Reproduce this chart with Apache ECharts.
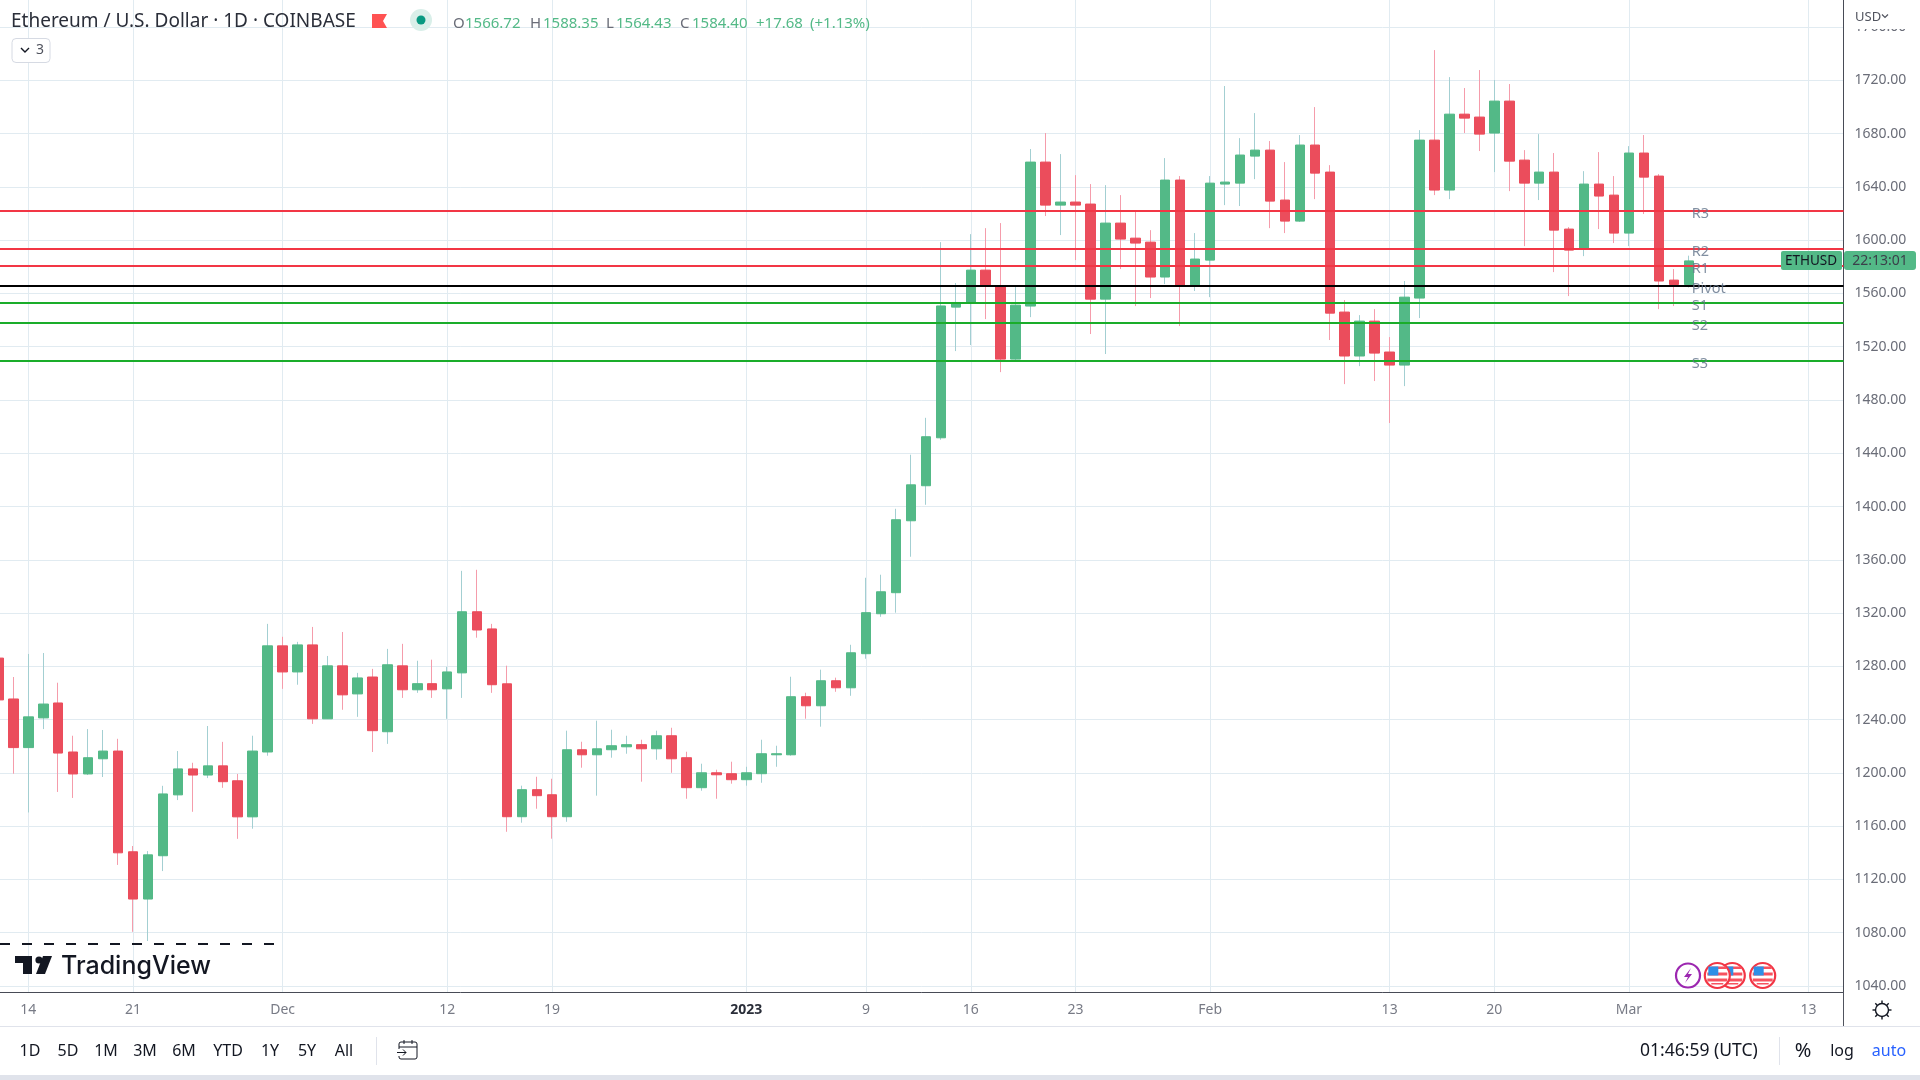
<!DOCTYPE html>
<html>
<head>
<meta charset="utf-8">
<title>ETHUSD</title>
<script src="https://cdn.jsdelivr.net/npm/echarts@6/dist/echarts.min.js"></script>
<style>
html, body {margin:0; padding:0; background:#fff;}
#main {width:1920px; height:1080px;}
</style>
</head>
<body>
<div id="main"></div>
<script>
const dates = [
  '2022-11-12','2022-11-13','2022-11-14','2022-11-15','2022-11-16','2022-11-17','2022-11-18','2022-11-19','2022-11-20','2022-11-21',
  '2022-11-22','2022-11-23','2022-11-24','2022-11-25','2022-11-26','2022-11-27','2022-11-28','2022-11-29','2022-11-30',
  '2022-12-01','2022-12-02','2022-12-03','2022-12-04','2022-12-05','2022-12-06','2022-12-07','2022-12-08','2022-12-09','2022-12-10',
  '2022-12-11','2022-12-12','2022-12-13','2022-12-14','2022-12-15','2022-12-16','2022-12-17','2022-12-18','2022-12-19','2022-12-20',
  '2022-12-21','2022-12-22','2022-12-23','2022-12-24','2022-12-25','2022-12-26','2022-12-27','2022-12-28','2022-12-29','2022-12-30','2022-12-31',
  '2023-01-01','2023-01-02','2023-01-03','2023-01-04','2023-01-05','2023-01-06','2023-01-07','2023-01-08','2023-01-09','2023-01-10',
  '2023-01-11','2023-01-12','2023-01-13','2023-01-14','2023-01-15','2023-01-16','2023-01-17','2023-01-18','2023-01-19','2023-01-20',
  '2023-01-21','2023-01-22','2023-01-23','2023-01-24','2023-01-25','2023-01-26','2023-01-27','2023-01-28','2023-01-29','2023-01-30','2023-01-31',
  '2023-02-01','2023-02-02','2023-02-03','2023-02-04','2023-02-05','2023-02-06','2023-02-07','2023-02-08','2023-02-09','2023-02-10',
  '2023-02-11','2023-02-12','2023-02-13','2023-02-14','2023-02-15','2023-02-16','2023-02-17','2023-02-18','2023-02-19','2023-02-20',
  '2023-02-21','2023-02-22','2023-02-23','2023-02-24','2023-02-25','2023-02-26','2023-02-27','2023-02-28',
  '2023-03-01','2023-03-02','2023-03-03','2023-03-04','2023-03-05'
];
const opens = [
  1286.2,1255.5,1219,1241.3,1252.5,1215.7,1199.2,1210.6,1216.4,1140.8,1105.3,1137.8,1183.5,1203,1198.4,1205.3,1194.1,1167,1215.7,
  1295.4,1275.8,1296.1,1240.6,1280.4,1259.3,1272,1230.9,1280.4,1262.4,1267,1263.1,1275.1,1321,1308.1,1266.9,1167.1,1187.4,1183.6,1167.1,
  1217.4,1213.6,1217.4,1219.6,1221.2,1218.1,1227.9,1211.4,1188.9,1200.1,1199.4,
  1194.9,1199.4,1213.6,1213.6,1257.2,1250.4,1269.2,1263.9,1289.5,1319.5,1335.3,1389.3,1415.6,1451.6,1549.7,1553.5,1577.5,1565,1510.7,1550.5,
  1658.6,1626.3,1628.6,1627.1,1555.7,1612.8,1601.5,1598.5,1572.3,1645.1,1566,
  1585,1642.1,1642.8,1663.1,1667.6,1630.1,1614.3,1671.4,1651.1,1546,1513,1539.2,1516,1506.2,1556.5,1675.1,1637.6,1694.6,1692.4,1680.4,
  1704.4,1660.1,1642.8,1651.1,1608.3,1593.3,1642.1,1633.8,
  1605.3,1665.4,1648.1,1570,1566.72
];
const closes = [
  1254.8,1219,1242.1,1251.7,1214.9,1199.2,1211.4,1216.4,1140,1105.3,1138.5,1184.2,1203,1198.4,1205.3,1193.4,1167,1216.4,1295.4,
  1275.8,1296.1,1240.6,1280.4,1258.6,1271.3,1231.7,1281.2,1262.4,1267,1262.4,1275.8,1321,1307.3,1266.2,1167.1,1187.4,1182.9,1167.1,1217.4,
  1213.6,1218.1,1220.4,1221.2,1218.1,1227.9,1210.6,1188.9,1200.1,1198.6,1194.9,
  1200.1,1214.4,1214.4,1257.2,1250.4,1269.2,1263.9,1290.2,1320.3,1336,1390.1,1416.3,1452.4,1550.6,1553.2,1577.5,1565.5,1510.7,1551.2,1658.6,
  1626.3,1628.6,1626.3,1555.7,1612.8,1600.8,1597.8,1572.3,1645.1,1566,1585.8,
  1642.8,1643.6,1663.9,1667.6,1629.3,1614.3,1671.4,1650.3,1545.2,1513,1539.2,1515.2,1506.2,1557.2,1675.1,1637.6,1694.6,1691.6,1679.6,1704.4,
  1659.3,1642.8,1651.1,1607.5,1592.5,1642.1,1633.1,1605.3,
  1665.4,1647.3,1569.3,1566.7,1584.4
];
const lows = [
  1250,1199.4,1170.3,1232.9,1185.7,1181.2,1198.4,1196.9,1130.9,1080.7,1073.8,1126.3,1179.6,1170.8,1196.1,1188.8,1150.5,1158.1,1212.9,
  1263.1,1266.2,1236.8,1240.6,1247.4,1242.1,1215.7,1221.8,1256.3,1260.1,1256.3,1240.6,1256.3,1301.5,1260.1,1155.8,1162.6,1173.1,1150.6,1163.3,
  1203.9,1182.9,1211.4,1214.4,1193.4,1209.9,1200.1,1180.6,1186.6,1180.6,1191.9,
  1190.4,1192.6,1204.6,1212.9,1240.7,1234.7,1260.9,1257.9,1285.7,1317.2,1320.3,1362.3,1401.3,1450.1,1516.7,1521.2,1540.7,1500.9,1509.7,1542.2,
  1618.1,1603.8,1585,1529.5,1514.5,1578.3,1550.5,1556.5,1567,1535.5,1561.8,
  1557.2,1626.3,1625.6,1645.8,1609,1605.3,1613.6,1630.8,1525,1491.9,1505.4,1494.2,1462.7,1490.4,1541.5,1633.8,1630.8,1680.4,1666.9,1651.1,
  1636.8,1595.5,1630.1,1576,1558,1588,1608.3,1597.8,
  1595.5,1619.6,1548.2,1550.5,1564.43
];
const highs = [
  1295,1272,1289.3,1290,1267.7,1227.9,1232.9,1232.2,1225.6,1145.1,1141.3,1190.3,1216.4,1207.6,1235.2,1223.3,1199.2,1227.9,1311.9,
  1302.2,1298.4,1309.6,1287.8,1305.8,1275.1,1278.1,1293.1,1296.9,1284.2,1285,1279.6,1351.7,1352.5,1311.9,1280.5,1190.4,1197.1,1195.6,1231.7,
  1223.4,1239.2,1232.4,1227.9,1224.9,1231.7,1233.9,1215.9,1206.9,1202.4,1208.4,
  1204.6,1224.9,1220.4,1272.2,1260.2,1277.5,1271.5,1296.2,1346.5,1348.8,1398.3,1438.9,1466.6,1598.5,1567.8,1604.5,1609,1612.8,1565.5,1668.4,
  1680.4,1664.6,1648.8,1642.1,1641.3,1633.8,1621.8,1607.5,1661.6,1648.1,1605.3,
  1648.1,1715.7,1676.6,1695.4,1674.4,1658.6,1678.9,1699.9,1656.3,1555,1543.7,1548.2,1527.2,1569.3,1682.6,1742.7,1722.4,1714.2,1727.7,1720.2,
  1717.2,1667.6,1679.6,1665.4,1609.8,1651.8,1666.1,1648.1,
  1670.6,1678.9,1649.6,1578.3,1588.35
];
const levelNames = ['R3','R2','R1','Pivot','S1','S2','S3'];
const levelValues = [1621.9,1593.3,1580.6,1565.6,1552.8,1537.8,1509.3];
const yTicks = [1040,1080,1120,1160,1200,1240,1280,1320,1360,1400,1440,1480,1520,1560,1600,1640,1680,1720,1760];
const xTickDates = ['2022-11-14','2022-11-21','2022-12-01','2022-12-12','2022-12-19','2023-01-01','2023-01-09','2023-01-16','2023-01-23','2023-02-01','2023-02-13','2023-02-20','2023-03-01','2023-03-13'];
const xTickLabels = ['14','21','Dec','12','19','2023','9','16','23','Feb','13','20','Mar','13'];
const rangeButtons = ['1D','5D','1M','3M','6M','YTD','1Y','5Y','All'];

const FONT = '"Noto Sans", "Open Sans", sans-serif';
// x axis is a plain day count from the first date
const dayNo = function (d) { return (Date.parse(d + 'T00:00:00Z') - Date.parse(dates[0] + 'T00:00:00Z')) / 86400000; };

// 14.958px a day, Nov 14 sits at 28.3px
const xMin = dayNo('2022-11-14') - 28.3 / 14.958;
const xMax = xMin + 1843.3 / 14.958;

const xTicks = xTickDates.map(dayNo);
const labelByDay = {};
xTicks.forEach(function (d, i) { labelByDay[d] = xTickLabels[i]; });

const wickData = dates.map(function (d, i) { return [dayNo(d), opens[i], closes[i], lows[i], highs[i]]; });
const bodyData = dates.map(function (d, i) {
  return [dayNo(d), opens[i], closes[i], Math.min(opens[i], closes[i]), Math.max(opens[i], closes[i])];
});
const levelColors = ['#f23645','#f23645','#f23645','#000000','#1aad2a','#1aad2a','#1aad2a'];

function text(x, y, str, size, fill, align, weight, family) {
  return {
    type: 'text', x: x, y: y, z: 100,
    style: {
      text: str, fill: fill, align: align || 'left', verticalAlign: 'middle',
      font: (weight || 'normal') + ' ' + size + 'px ' + (family || FONT)
    }
  };
}
function rect(x, y, w, h, fill, r, stroke) {
  return {
    type: 'rect', z: 100, shape: {x: x, y: y, width: w, height: h, r: r || 0},
    style: {fill: fill, stroke: stroke || null, lineWidth: stroke ? 1 : 0}
  };
}
function line(x1, y1, x2, y2, stroke, w, dash) {
  return {
    type: 'line', z: 100, shape: {x1: x1, y1: y1, x2: x2, y2: y2},
    style: {stroke: stroke, lineWidth: w || 1, lineDash: dash || null}
  };
}
function poly(points, fill, stroke, w) {
  return {
    type: fill ? 'polygon' : 'polyline', z: 100, shape: {points: points},
    style: {fill: fill || null, stroke: stroke || null, lineWidth: w || 0}
  };
}
function circle(cx, cy, r, fill, stroke, w, z) {
  return {
    type: 'circle', z: z || 100, shape: {cx: cx, cy: cy, r: r},
    style: {fill: fill, stroke: stroke || null, lineWidth: w || 0}
  };
}
function flagIcon(cx, cy, z) {
  const clip = function (y, h, x1, w, fill) {
    return {type: 'rect', z: z, shape: {x: cx + x1, y: cy + y, width: w, height: h}, style: {fill: fill}};
  };
  return [
    circle(cx, cy, 12.5, '#fff', '#f23645', 2.2, z),
    clip(-9, 2.5, -6, 15, '#f7525f'),
    clip(-3, 3, -10, 20, '#f7525f'),
    clip(3, 3, -10, 20, '#f7525f'),
    clip(7.5, 1.5, -6, 12, '#f7525f'),
    clip(-9, 9, -9, 10, '#2e8fe6')
  ];
}

const graphics = [
  // covers the 1760 label like the USD button does
  rect(1845, 0, 75, 29, '#fff'),
  text(1855, 17, 'USD', 13, '#50535e'),
  poly([[1882, 14.5], [1885, 17.5], [1888, 14.5]], null, '#50535e', 1.2),

  // header
  text(11, 22, 'Ethereum / U.S. Dollar · 1D · COINBASE', 19, '#2a2e39'),
  poly([[372, 14], [387, 14], [383, 21], [387, 28], [372, 28]], '#ff5252'),
  circle(421, 20, 11, '#d9efe9'),
  circle(421, 20, 4.5, '#089981'),
  text(453, 23.5, 'O', 15, '#6a6d78'), text(465, 23.5, '1566.72', 15, '#53b987'),
  text(530, 23.5, 'H', 15, '#6a6d78'), text(543, 23.5, '1588.35', 15, '#53b987'),
  text(606, 23.5, 'L', 15, '#6a6d78'), text(616, 23.5, '1564.43', 15, '#53b987'),
  text(680, 23.5, 'C', 15, '#6a6d78'), text(692, 23.5, '1584.40', 15, '#53b987'),
  text(756, 23.5, '+17.68', 15, '#53b987'), text(810, 23.5, '(+1.13%)', 15, '#53b987'),
  rect(12, 38.5, 38, 24, '#fff', 4, '#d6dae3'),
  poly([[21, 48], [25, 52], [29, 48]], null, '#131722', 1.4),
  text(36, 50, '3', 14, '#50535e'),

  // price tag
  rect(1781, 251, 61, 19, '#53b987', 2),
  text(1811, 261.5, 'ETHUSD', 13.5, '#131722', 'center'),
  rect(1844, 251, 72, 19, '#53b987', 3),
  text(1880, 261.5, '22:13:01', 14, '#3b3f4a', 'center'),

  // watermark
  line(0, 944, 274, 944, '#131722', 2, [10, 12]),
  poly([[15, 956], [32, 956], [32, 974], [23, 974], [23, 963], [15, 963]], '#131722'),
  circle(39, 960, 3.6, '#131722'),
  poly([[43, 956], [52, 956], [45, 974], [36, 974]], '#131722'),
  text(61, 966, 'TradingView', 25, '#131722', 'left', '500', 'Inter, sans-serif'),

  // events
  circle(1688, 975.5, 12, '#fff', '#9c27b0', 2.2),
  poly([[1691, 968], [1684, 977], [1688, 977], [1685, 983], [1692, 974], [1688, 974]], '#9c27b0')
].concat(flagIcon(1732.3, 975.5, 100), flagIcon(1717.3, 975.5, 101), flagIcon(1762.7, 975.5, 100), [
  // frame below the plot
  line(1843.5, 992, 1843.5, 1026, '#50535e'),
  line(0, 1026.5, 1920, 1026.5, '#e0e3eb', 1),
  rect(0, 1075, 1920, 5, '#e0e3eb'),
  line(376.5, 1037, 376.5, 1065, '#e0e3eb'),
  line(1779.5, 1037, 1779.5, 1065, '#e0e3eb'),
  text(1640, 1051, '01:46:59 (UTC)', 17.5, '#131722'),
  text(1803, 1051, '%', 20, '#131722', 'center'),
  text(1842, 1051, 'log', 16, '#131722', 'center'),
  text(1889, 1051, 'auto', 16, '#2962ff', 'center'),

  // calendar button
  rect(399, 1042, 18, 17, 'none', 2, '#131722'),
  line(399, 1047, 417, 1047, '#131722'),
  line(404, 1040, 404, 1044, '#131722'),
  line(412, 1040, 412, 1044, '#131722'),
  rect(394, 1049, 9, 7, '#fff'),
  line(397, 1052.5, 406, 1052.5, '#131722'),
  poly([[403, 1049.5], [406, 1052.5], [403, 1055.5]], null, '#131722', 1),

  // settings button
  circle(1882, 1010, 6.5, '#fff', '#131722', 1.4),
  line(1882, 1000.5, 1882, 1003.5, '#131722', 1.4),
  line(1882, 1016.5, 1882, 1019.5, '#131722', 1.4),
  line(1872.5, 1010, 1875.5, 1010, '#131722', 1.4),
  line(1888.5, 1010, 1891.5, 1010, '#131722', 1.4),
  line(1875.3, 1003.3, 1877.4, 1005.4, '#131722', 1.4),
  line(1886.6, 1014.6, 1888.7, 1016.7, '#131722', 1.4),
  line(1875.3, 1016.7, 1877.4, 1014.6, '#131722', 1.4),
  line(1886.6, 1005.4, 1888.7, 1003.3, '#131722', 1.4)
]);
const rangeX = [30, 68, 106, 145, 184, 228, 270, 307, 344];
rangeButtons.forEach(function (b, i) {
  graphics.push(text(rangeX[i], 1051, b, 16, '#131722', 'center'));
});

const chart = echarts.init(document.getElementById('main'), null, {renderer: 'canvas'});
chart.setOption({
  animation: false,
  backgroundColor: '#ffffff',
  grid: {left: 0, top: 0, right: 76.5, bottom: 88},
  xAxis: {
    type: 'value',
    min: xMin,
    max: xMax,
    axisLine: {show: true, onZero: false, lineStyle: {color: '#484b56', width: 1}},
    axisTick: {show: false, customValues: xTicks},
    splitLine: {show: true, lineStyle: {color: '#e1ebf1', width: 1}},
    axisLabel: {
      customValues: xTicks,
      color: '#787b86',
      fontFamily: FONT,
      fontSize: 14,
      margin: 11,
      hideOverlap: false,
      formatter: function (v) {
        const s = labelByDay[v];
        return s === '2023' ? '{year|2023}' : s;
      },
      rich: {year: {fontFamily: FONT, fontSize: 14, fontWeight: 'bold', color: '#2a2e39'}}
    }
  },
  yAxis: {
    type: 'value',
    position: 'right',
    min: 1035.5,
    max: 1780.3,
    axisLine: {show: true, onZero: false, lineStyle: {color: '#484b56', width: 1}},
    axisTick: {show: false, customValues: yTicks},
    splitLine: {show: true, lineStyle: {color: '#e1ebf1', width: 1}},
    axisLabel: {
      customValues: yTicks,
      color: '#6a6d78',
      fontFamily: FONT,
      fontSize: 14,
      margin: 11,
      padding: [2, 0, 0, 0],
      formatter: function (v) { return v.toFixed(2); }
    }
  },
  series: [
    {
      name: 'wicks',
      type: 'candlestick',
      barWidth: 1,
      z: 2,
      itemStyle: {color: '#a3cfd2', color0: '#f59cab', borderColor: '#a3cfd2', borderColor0: '#f59cab', borderWidth: 1},
      data: wickData
    },
    {
      name: 'bodies',
      type: 'candlestick',
      barWidth: 10,
      z: 3,
      itemStyle: {color: '#53b987', color0: '#eb4d5c', borderColor: '#53b987', borderColor0: '#eb4d5c', borderWidth: 1},
      data: bodyData
    },
    {
      name: 'levels',
      type: 'scatter',
      symbolSize: 0,
      z: 5,
      data: levelValues.map(function (v, i) { return {name: levelNames[i], value: [dayNo(dates[dates.length - 1]), v]}; }),
      label: {
        show: true, position: 'right', distance: 3, offset: [0, 3],
        formatter: '{b}', color: '#62738a', fontFamily: FONT, fontSize: 14.5
      },
      markLine: {
        silent: true,
        symbol: 'none',
        animation: false,
        label: {show: false},
        data: levelValues.map(function (v, i) {
          return {yAxis: v, lineStyle: {color: levelColors[i], width: 2, type: 'solid'}};
        })
      }
    }
  ],
  graphic: {elements: graphics}
});
</script>
</body>
</html>
